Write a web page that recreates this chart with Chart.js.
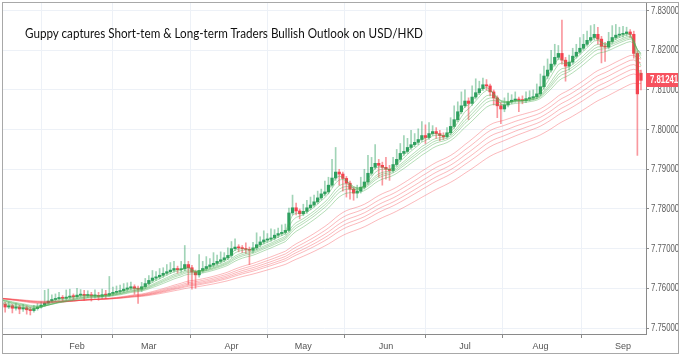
<!DOCTYPE html>
<html><head><meta charset="utf-8">
<script src="https://cdn.jsdelivr.net/npm/chart.js@4.4.1/dist/chart.umd.min.js"></script>
<style>
html,body{margin:0;padding:0;background:#fff;}
#wrap{position:relative;width:680px;height:356px;overflow:hidden;}
#title{position:absolute;left:25px;top:25px;font-family:Lato,'Open Sans',sans-serif;font-size:13px;line-height:16px;color:#111;white-space:nowrap;transform-origin:0 0;}
</style></head><body>
<div id="wrap"><canvas id="c" width="680" height="356"></canvas><div id="title">Guppy captures Short-tem &amp; Long-term Traders Bullish Outlook on USD/HKD</div></div>
<script>
// Daily USD/HKD candles, 2 Jan 2017 .. 8 Sep 2017 (weekdays)
const open = [
7.7566,7.7563,7.7560,7.7553,7.7556,7.7550,7.7553,7.7548,7.7551,7.7546,
7.7544,7.7549,7.7553,7.7558,7.7563,7.7568,7.7572,7.7574,7.7577,7.7575,
7.7578,7.7580,7.7579,7.7583,7.7585,7.7582,7.7584,7.7581,7.7582,7.7580,
7.7584,7.7583,7.7587,7.7590,7.7592,7.7594,7.7598,7.7601,7.7604,7.7600,
7.7598,7.7604,7.7612,7.7620,7.7626,7.7629,7.7633,7.7638,7.7642,7.7646,
7.7650,7.7647,7.7649,7.7660,7.7652,7.7641,7.7634,7.7645,7.7650,7.7655,
7.7659,7.7663,7.7668,7.7672,7.7677,7.7683,7.7700,7.7704,7.7702,7.7700,
7.7698,7.7696,7.7702,7.7710,7.7717,7.7722,7.7724,7.7727,7.7734,7.7738,
7.7741,7.7746,7.7790,7.7803,7.7795,7.7788,7.7794,7.7803,7.7810,7.7818,
7.7828,7.7838,7.7843,7.7860,7.7878,7.7893,7.7888,7.7877,7.7865,7.7850,
7.7840,7.7845,7.7855,7.7868,7.7890,7.7905,7.7915,7.7910,7.7905,7.7900,
7.7897,7.7912,7.7925,7.7940,7.7945,7.7955,7.7962,7.7968,7.7975,7.7985,
7.7980,7.7990,7.7995,7.7990,7.7985,7.7982,7.7992,7.8008,7.8025,7.8045,
7.8060,7.8072,7.8066,7.8082,7.8093,7.8103,7.8113,7.8110,7.8095,7.8080,
7.8060,7.8052,7.8062,7.8070,7.8074,7.8077,7.8074,7.8073,7.8078,7.8080,
7.8083,7.8090,7.8108,7.8135,7.8150,7.8165,7.8182,7.8192,7.8175,7.8160,
7.8170,7.8185,7.8195,7.8205,7.8215,7.8225,7.8232,7.8240,7.8228,7.8210,
7.8208,7.8222,7.8232,7.8238,7.8240,7.8242,7.8246,7.8240,7.8192,7.8142];
const high = [
7.7570,7.7567,7.7565,7.7566,7.7560,7.7562,7.7558,7.7560,7.7556,7.7552,
7.7557,7.7562,7.7566,7.7595,7.7598,7.7584,7.7586,7.7590,7.7582,7.7596,
7.7598,7.7586,7.7600,7.7597,7.7595,7.7594,7.7590,7.7596,7.7590,7.7598,
7.7595,7.7630,7.7603,7.7606,7.7608,7.7612,7.7614,7.7616,7.7609,7.7606,
7.7615,7.7625,7.7632,7.7645,7.7642,7.7650,7.7652,7.7660,7.7665,7.7668,
7.7656,7.7668,7.7708,7.7668,7.7658,7.7646,7.7685,7.7668,7.7680,7.7675,
7.7690,7.7684,7.7692,7.7690,7.7702,7.7718,7.7725,7.7710,7.7708,7.7715,
7.7704,7.7716,7.7740,7.7730,7.7745,7.7738,7.7750,7.7748,7.7752,7.7760,
7.7762,7.7802,7.7835,7.7815,7.7800,7.7812,7.7822,7.7830,7.7835,7.7845,
7.7850,7.7870,7.7880,7.7925,7.7955,7.7900,7.7893,7.7882,7.7870,7.7855,
7.7860,7.7880,7.7900,7.7935,7.7930,7.7962,7.7925,7.7918,7.7930,7.7910,
7.7930,7.7950,7.7965,7.7985,7.7978,7.7998,7.7990,7.8002,7.8020,7.8012,
7.8018,7.8010,7.8005,7.7998,7.7992,7.8005,7.8030,7.8060,7.8070,7.8095,
7.8100,7.8080,7.8110,7.8128,7.8122,7.8130,7.8126,7.8115,7.8100,7.8085,
7.8068,7.8080,7.8092,7.8088,7.8095,7.8082,7.8085,7.8095,7.8098,7.8100,
7.8115,7.8140,7.8160,7.8178,7.8200,7.8215,7.8212,7.8276,7.8182,7.8188,
7.8205,7.8215,7.8232,7.8240,7.8248,7.8262,7.8265,7.8258,7.8235,7.8220,
7.8245,7.8262,7.8265,7.8258,7.8260,7.8258,7.8252,7.8248,7.8198,7.8150];
const low = [
7.7552,7.7548,7.7540,7.7549,7.7538,7.7545,7.7536,7.7542,7.7535,7.7533,
7.7540,7.7545,7.7550,7.7555,7.7560,7.7565,7.7567,7.7570,7.7568,7.7570,
7.7573,7.7572,7.7575,7.7578,7.7570,7.7577,7.7568,7.7575,7.7570,7.7574,
7.7574,7.7580,7.7582,7.7585,7.7587,7.7590,7.7593,7.7597,7.7585,7.7562,
7.7592,7.7600,7.7608,7.7615,7.7620,7.7624,7.7628,7.7633,7.7637,7.7641,
7.7638,7.7641,7.7644,7.7610,7.7598,7.7600,7.7628,7.7640,7.7645,7.7650,
7.7654,7.7658,7.7663,7.7667,7.7672,7.7678,7.7695,7.7692,7.7690,7.7688,
7.7660,7.7690,7.7697,7.7705,7.7712,7.7716,7.7719,7.7722,7.7728,7.7733,
7.7736,7.7742,7.7785,7.7785,7.7775,7.7783,7.7789,7.7798,7.7805,7.7813,
7.7823,7.7833,7.7838,7.7855,7.7872,7.7860,7.7845,7.7830,7.7825,7.7822,
7.7828,7.7840,7.7850,7.7862,7.7885,7.7900,7.7880,7.7860,7.7875,7.7872,
7.7892,7.7907,7.7920,7.7935,7.7940,7.7950,7.7957,7.7962,7.7970,7.7965,
7.7975,7.7985,7.7978,7.7972,7.7975,7.7978,7.7987,7.8003,7.8020,7.8040,
7.8055,7.8025,7.8061,7.8077,7.8088,7.8098,7.8100,7.8085,7.8062,7.8030,
7.8015,7.8045,7.8057,7.8065,7.8069,7.8045,7.8065,7.8068,7.8072,7.8075,
7.8078,7.8085,7.8102,7.8128,7.8145,7.8160,7.8176,7.8165,7.8122,7.8150,
7.8165,7.8180,7.8190,7.8200,7.8210,7.8220,7.8226,7.8215,7.8168,7.8172,
7.8203,7.8217,7.8227,7.8232,7.8233,7.8236,7.8232,7.8180,7.7935,7.8100];
const close = [
7.7563,7.7560,7.7553,7.7556,7.7550,7.7553,7.7548,7.7551,7.7546,7.7544,
7.7549,7.7553,7.7558,7.7563,7.7568,7.7572,7.7574,7.7577,7.7575,7.7578,
7.7580,7.7579,7.7583,7.7585,7.7582,7.7584,7.7581,7.7582,7.7580,7.7584,
7.7583,7.7587,7.7590,7.7592,7.7594,7.7598,7.7601,7.7604,7.7600,7.7598,
7.7604,7.7612,7.7620,7.7626,7.7629,7.7633,7.7638,7.7642,7.7646,7.7650,
7.7647,7.7649,7.7660,7.7652,7.7641,7.7634,7.7645,7.7650,7.7655,7.7659,
7.7663,7.7668,7.7672,7.7677,7.7683,7.7700,7.7704,7.7702,7.7700,7.7698,
7.7696,7.7702,7.7710,7.7717,7.7722,7.7724,7.7727,7.7734,7.7738,7.7741,
7.7746,7.7790,7.7803,7.7795,7.7788,7.7794,7.7803,7.7810,7.7818,7.7828,
7.7838,7.7843,7.7860,7.7878,7.7893,7.7888,7.7877,7.7865,7.7850,7.7840,
7.7845,7.7855,7.7868,7.7890,7.7905,7.7915,7.7910,7.7905,7.7900,7.7897,
7.7912,7.7925,7.7940,7.7945,7.7955,7.7962,7.7968,7.7975,7.7985,7.7980,
7.7990,7.7995,7.7990,7.7985,7.7982,7.7992,7.8008,7.8025,7.8045,7.8060,
7.8072,7.8066,7.8082,7.8093,7.8103,7.8113,7.8110,7.8095,7.8080,7.8060,
7.8052,7.8062,7.8070,7.8074,7.8077,7.8074,7.8073,7.8078,7.8080,7.8083,
7.8090,7.8108,7.8135,7.8150,7.8165,7.8182,7.8192,7.8175,7.8160,7.8170,
7.8185,7.8195,7.8205,7.8215,7.8225,7.8232,7.8240,7.8228,7.8210,7.8208,
7.8222,7.8232,7.8238,7.8240,7.8242,7.8246,7.8240,7.8192,7.8090,7.81241];

const monthLabels = ['Feb','Mar','Apr','May','Jun','Jul','Aug','Sep'];
const monthStartIndex = [22, 42, 65, 85, 108, 130, 151, 174];
const priceTicks = [7.75, 7.76, 7.77, 7.78, 7.79, 7.80, 7.81, 7.82, 7.83];
const shortPeriods = [3, 5, 8, 10, 12, 15];
const longPeriods = [30, 35, 40, 45, 50, 60];
const emaSeed = 7.7576; // level of the averages at the left edge

const UP = '#2e9f60', DOWN = '#f4434f';
const UP_WICK = 'rgba(46,159,96,0.45)', DOWN_WICK = 'rgba(244,67,79,0.55)';

function ema(period) {
  const k = 2 / (period + 1);
  let e = emaSeed;
  return close.map((c, i) => { e = e + k * (c - e); return { x: i, y: e }; });
}

const isUp = close.map((c, i) => c >= open[i]);

const datasets = [];
shortPeriods.forEach(p => datasets.push({
  type: 'line', data: ema(p), borderColor: 'rgba(76,175,80,0.42)', borderWidth: 1,
  pointRadius: 0, tension: 0, order: 1
}));
longPeriods.forEach(p => datasets.push({
  type: 'line', data: ema(p), borderColor: 'rgba(244,60,70,0.36)', borderWidth: 1,
  pointRadius: 0, tension: 0, order: 1
}));
datasets.push({
  type: 'bar', data: close.map((c, i) => ({ x: i, y: [open[i], c] })),
  backgroundColor: isUp.map(u => u ? UP : DOWN), barThickness: 2.6, minBarLength: 1,
  grouped: false, borderWidth: 0, order: 2
});
datasets.push({
  type: 'bar', data: close.map((c, i) => ({ x: i, y: [low[i], high[i]] })),
  backgroundColor: isUp.map(u => u ? UP_WICK : DOWN_WICK), barThickness: 1,
  grouped: false, borderWidth: 0, order: 3
});

const FONT_FAMILY = "'Liberation Sans',Arial,sans-serif";
const tickFont = { family: FONT_FAMILY, size: 9 };
const gridColor = '#edf1f7';
const axisColor = '#8a8a8a';
const SQUEEZE = 0.78; // horizontal squeeze of the picture's axis text

function squeezedText(ctx, text, x, y, font, color) {
  ctx.save();
  ctx.font = font; ctx.fillStyle = color;
  ctx.textBaseline = 'middle'; ctx.textAlign = 'left';
  ctx.translate(x, y); ctx.scale(SQUEEZE, 1);
  ctx.fillText(text, 0, 0);
  ctx.restore();
}

const decor = {
  id: 'decor',
  beforeDraw(chart) {
    const ctx = chart.ctx; ctx.save(); ctx.fillStyle = '#fff'; ctx.fillRect(0, 0, chart.width, chart.height); ctx.restore();
  },
  afterDraw(chart) {
    const ctx = chart.ctx;
    const ys = chart.scales.y;
    // price-axis labels
    ys.ticks.forEach(t => {
      squeezedText(ctx, t.value.toFixed(5), ys.left + 5, Math.round(ys.getPixelForValue(t.value)) + 0.5,
        '10px ' + FONT_FAMILY, '#5a5a5a');
    });
    // last-price marker
    const last = close[close.length - 1];
    const y = Math.round(ys.getPixelForValue(last));
    ctx.save();
    ctx.fillStyle = '#f7525f';
    ctx.fillRect(646, y - 7, 33, 14);
    ctx.restore();
    squeezedText(ctx, last.toFixed(5), 650, y + 0.5, 'bold 10px ' + FONT_FAMILY, '#fff');
    ctx.save();
    ctx.strokeStyle = '#a8a8a8'; ctx.lineWidth = 1;
    ctx.strokeRect(2.5, 2.5, 676, 351);
    ctx.restore();
  }
};

new Chart(document.getElementById('c'), {
  type: 'bar',
  data: { datasets },
  plugins: [decor],
  options: {
    responsive: false, animation: false,
    layout: { padding: { left: 3, top: 3, right: 1, bottom: 2 } },
    plugins: { legend: { display: false }, tooltip: { enabled: false }, title: { display: false } },
    scales: {
      x: {
        type: 'linear', min: 1.4, max: 180.4, offset: false,
        afterBuildTicks: s => { s.ticks = monthStartIndex.map(v => ({ value: v })); },
        afterFit: s => { s.height = 20; },
        ticks: { autoSkip: false, maxRotation: 0, padding: 3, color: '#555', font: tickFont,
          callback: (v, i) => monthLabels[i] },
        grid: { color: gridColor, tickColor: axisColor, tickLength: 4 },
        border: { color: axisColor }
      },
      y: {
        position: 'right', min: 7.7485, max: 7.8319,
        afterBuildTicks: s => { s.ticks = priceTicks.map(v => ({ value: v })); },
        afterFit: s => { s.width = 33; },
        ticks: { display: false },
        grid: { color: gridColor, tickColor: axisColor, tickLength: 3 },
        border: { color: axisColor }
      }
    }
  }
});

// fit title to the width it has in the picture
(function () {
  const t = document.getElementById('title');
  const w = t.getBoundingClientRect().width;
  t.style.transform = 'scaleX(' + (398 / w) + ')';
})();
</script></body></html>
